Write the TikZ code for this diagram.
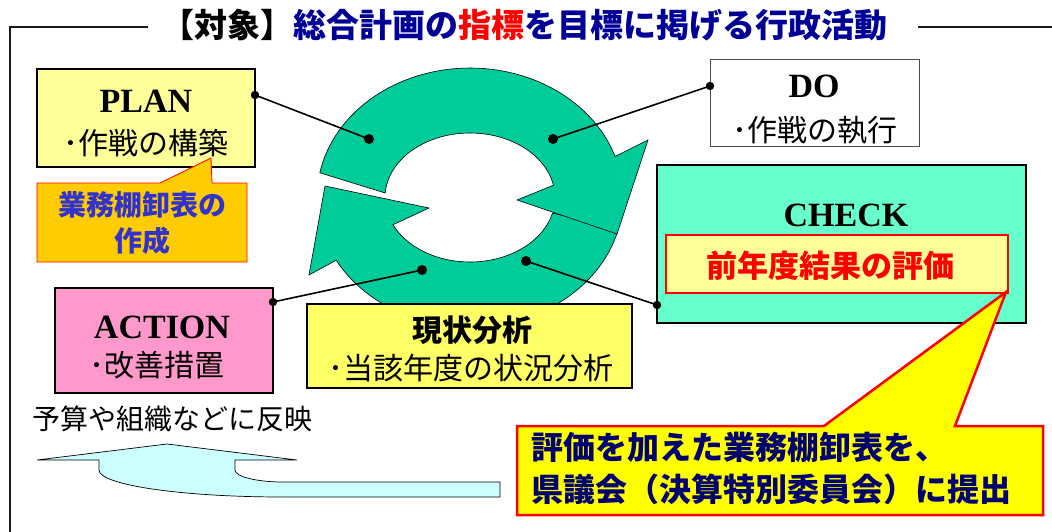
\documentclass[tikz,border=0pt]{standalone}
\usepackage{fontspec}
\setmainfont{Liberation Serif}
\newfontfamily\jp{Noto Sans CJK JP}
\usetikzlibrary{arrows.meta}
\definecolor{planfill}{RGB}{255,255,153}
\definecolor{orangefill}{RGB}{255,204,0}
\definecolor{ringgreen}{RGB}{0,204,153}
\definecolor{checkfill}{RGB}{102,255,204}
\definecolor{pinkfill}{RGB}{255,153,204}
\definecolor{yelbox}{RGB}{255,255,102}
\definecolor{bigyel}{RGB}{255,255,0}
\definecolor{cyanfill}{RGB}{204,255,255}
\definecolor{tblue}{RGB}{0,0,150}
\definecolor{cblue}{RGB}{51,51,204}
\definecolor{navy}{RGB}{0,0,110}
\tikzset{
  pbox/.style={draw=black, line width=1.5pt, inner sep=0pt, outer sep=0pt},
  txt/.style={inner sep=0pt, outer sep=0pt, anchor=center},
  serifhead/.style={txt, font=\bfseries\fontsize{34}{36}\selectfont},
  jpline/.style={txt, font=\jp\fontsize{30}{34}\selectfont},
  conn/.style={line width=1.6pt, black},
  ringpart/.style={fill=ringgreen, draw=black, line width=0.6pt},
}
\begin{document}
\begin{tikzpicture}[x=1pt, y=-1pt]
\useasboundingbox (0,0) rectangle (1052,532);
\fill[white] (0,0) rectangle (1052,532);

% frame
\draw[line width=1.8pt, black!90] (148,27) -- (10,27) -- (10,532);
\draw[line width=1.8pt, black!90] (918,27) -- (1052,27);
\node[txt, font=\jp\bfseries\fontsize{33}{36}\selectfont] (title) at (524,25)
  {【対象】\textcolor{tblue}{総合計画の}\textcolor{red}{指標}\textcolor{tblue}{を目標に掲げる行政活動}};

% ring arrows (bottom first)
\def\cx{470}\def\cy{197.5}
\def\rxo{153}\def\ryo{129.5}\def\rxi{85}\def\ryi{64.5}
\draw[ringpart]
  plot[domain=13.6:151, samples=60] ({\cx+\rxo*cos(\x)},{\cy+\ryo*sin(\x)})
  -- (309,275) -- (325,186) -- (429,208)
  -- plot[domain=155:14, samples=60] ({\cx+\rxi*cos(\x)},{\cy+\ryi*sin(\x)})
  -- cycle;
\draw[ringpart]
  plot[domain=191:341.5, samples=60] ({\cx+\rxo*cos(\x)},{\cy+\ryo*sin(\x)})
  -- (648,140) -- (617,234) -- (517,200)
  -- plot[domain=349:184, samples=60] ({\cx+\rxi*cos(\x)},{\cy+\ryi*sin(\x)})
  -- cycle;

% boxes
\node[pbox, fill=planfill, minimum width=218pt, minimum height=98pt] (plan) at (146,118) {};
\node[serifhead] (planT) at (146,101) {PLAN};
\node[jpline] (planS) at (146,143) {･作戦の構築};

\draw[fill=orangefill, draw=red, line width=0.8pt]
  (37,183) -- (160,183) -- (211,158) -- (212,183) -- (247,183) -- (247,262) -- (37,262) -- cycle;
\node[txt, font=\jp\bfseries\fontsize{28}{32}\selectfont, text=cblue] (call1) at (142,205) {業務棚卸表の};
\node[txt, font=\jp\bfseries\fontsize{28}{32}\selectfont, text=cblue] (call2) at (142,241) {作成};

\node[draw=black!70, line width=1pt, fill=white, inner sep=0pt, minimum width=209pt, minimum height=87pt] (do) at (814.5,103.5) {};
\node[serifhead] (doT) at (814,86) {DO};
\node[jpline] (doS) at (815,130) {･作戦の執行};

\node[pbox, line width=2pt, fill=checkfill, minimum width=369pt, minimum height=158pt] (check) at (841.5,244) {};
\node[serifhead] (checkT) at (846,215) {CHECK};
\node[draw=red, line width=2pt, fill=planfill, inner sep=0pt, minimum width=342pt, minimum height=58pt] (eval) at (837,264) {};
\node[txt, font=\jp\bfseries\fontsize{31}{34}\selectfont, text=red] (evalT) at (830,266) {前年度結果の評価};

\node[pbox, line width=2pt, fill=pinkfill, minimum width=218pt, minimum height=105pt] (action) at (164,340.5) {};
\node[serifhead] (actionT) at (162,327) {ACTION};
\node[jpline] (actionS) at (157,365) {･改善措置};

\node[pbox, line width=2pt, fill=yelbox, minimum width=325pt, minimum height=84pt] (genjo) at (469.5,346) {};
\node[txt, font=\jp\bfseries\fontsize{30}{34}\selectfont] (genjoT) at (472,330) {現状分析};
\node[jpline] (genjoS) at (471,368) {･当該年度の状況分析};

\node[txt, font=\jp\fontsize{28}{32}\selectfont, anchor=west] (hanei) at (32,419) {予算や組織などに反映};

% big cyan arrow
\draw[fill=cyanfill, draw=black, line width=0.7pt]
  (167,444) -- (297,460) -- (235,460) -- (235,470)
  .. controls (235,476.6) and (256.5,482) .. (283,482)
  -- (500,482) -- (500,497) -- (283,497)
  .. controls (182,497) and (99,485) .. (99,470)
  -- (99,460) -- (37,460) -- cycle;

% big callout
\draw[fill=bigyel, draw=red, line width=2.5pt, line join=miter]
  (517,426) -- (824,426) -- (1006,292) -- (955,426) -- (1043,426) -- (1043,515) -- (517,515) -- cycle;
\node[txt, anchor=west, font=\jp\bfseries\fontsize{32}{36}\selectfont, text=navy] (big1) at (531,447) {評価を加えた業務棚卸表を、};
\node[txt, anchor=west, font=\jp\bfseries\fontsize{32}{36}\selectfont, text=navy] (big2) at (531,489) {県議会（決算特別委員会）に提出};

% connectors
\coordinate (pA) at (255,95);  \coordinate (pB) at (369,139);
\coordinate (dA) at (710,86);  \coordinate (dB) at (553,139);
\coordinate (cA) at (657,305); \coordinate (cB) at (526,261);
\coordinate (aA) at (273,302); \coordinate (aB) at (422,270);
\foreach \a/\b in {pA/pB, dA/dB, cA/cB, aA/aB}{
  \draw[conn] (\a) -- (\b);
  \fill (\a) circle (4.2);
  \fill (\b) circle (5);
}
\end{tikzpicture}
\end{document}
